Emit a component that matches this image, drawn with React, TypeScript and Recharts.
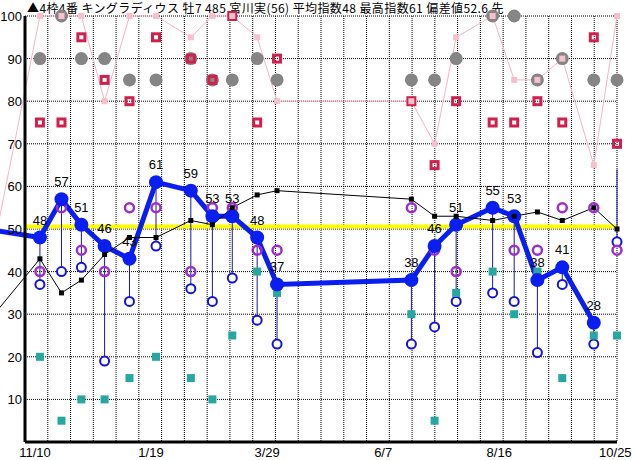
import React from 'react';
import {
  ComposedChart,
  Line,
  Scatter,
  ErrorBar,
  XAxis,
  YAxis,
  CartesianGrid,
  ReferenceLine,
  LabelList,
} from 'recharts';

const title = '▲4枠4番 キングラディウス 牡7 485 宮川実(56) 平均指数48 最高指数61 偏差値52.6 先';

// race days, counted from 11/10
const raceDays = [3, 16, 28, 42, 57, 73, 94, 107, 119, 134, 146, 227, 241, 254, 276, 289, 303, 318, 337, 351];
const indexValues = [48, 57, 51, 46, 43, 61, 59, 53, 53, 48, 37, 38, 46, 51, 55, 53, 38, 41, 28, null];
const stemTops = [48, 57, 51, 46, 43, 61, 59, 53, 53, 48, 37, 38, 46, 51, 55, 53, 38, 41, 28, 64];
const blueRings = [37, 40, 41, 19, 33, 46, 36, 33, 38.5, 28.6, 23, 23, 27, 33, 35, 33, 21, 37, 23, 47];
const purpleRings = [40, 55, 45, 40, 55, 55, 40, 55, 55, 45, 45, 55, 45, 40, 55, 45, 45, 55, 55, 45];
const blackLine = [43, 35, 38, 44, 48, 48, 52, 51, 55, 58, 59, 57, 53, 53, 52, 53, 54, 52, 55, 50];
const pinkLine = [100, 100, 100, 80, 100, 100, 95, 100, 100, 95, 80, 80, 70, 95, 100, 85, 85, 90, 65, 100];
const grayDots = [90, 100, 90, 90, 85, 85, 90, 85, 85, 90, 85, 85, 85, 90, 100, 100, 85, 90, 85, 85];
const redSquares = [75, 75, 95, 85, 80, 95, 90, 85, 100, 75, 90, 80, 65, 80, 75, 75, 80, 75, 95, 70];
const tealSquares = [20, 5, 10, 10, 15, 20, 15, 10, 25, 40, 35, 30, 5, 35, 40, 30, 40, 15, 25, 25];
const yellowLevel = 50.6;

// the race before the visible window (only its connecting segments show)
const prevDay = -33;
const prevIndex = 50.2;
const prevBlack = 26;
const prevPink = 30;

const dateTicks = [0, 70, 140, 210, 280, 350];
const dateLabels = ['11/10', '1/19', '3/29', '6/7', '8/16', '10/25'];
const yTicks = [10, 20, 30, 40, 50, 60, 70, 80, 90, 100];

const data = raceDays.map((day, i) => ({
  day,
  index: indexValues[i],
  stemTop: stemTops[i],
  ring: blueRings[i],
  purple: purpleRings[i],
  black: blackLine[i],
  pink: pinkLine[i],
  gray: grayDots[i],
  red: redSquares[i],
  teal: tealSquares[i],
}));

const FONT = '"Noto Sans CJK JP", "Noto Sans", sans-serif';
const NUM_FONT = '"Liberation Sans", Arial, sans-serif';

const ok = (p: any) => Number.isFinite(p.cx) && Number.isFinite(p.cy);

const GrayDot = (p: any) => (ok(p) ? <circle cx={p.cx} cy={p.cy} r={6.5} fill="#858585" /> : <g />);
const RedSquare = (p: any) =>
  ok(p) ? <rect x={p.cx - 3.5} y={p.cy - 3.5} width={7} height={7} fill="none" stroke="#d0204c" strokeWidth={3} /> : <g />;
const TealSquare = (p: any) =>
  ok(p) ? <rect x={p.cx - 4} y={p.cy - 4} width={8} height={8} fill="#27a79f" /> : <g />;
const PurpleRing = (p: any) =>
  ok(p) ? <circle cx={p.cx} cy={p.cy} r={4.5} fill="none" stroke="#9a2fcc" strokeWidth={2.5} /> : <g />;
const BlueRing = (p: any) =>
  ok(p) ? <circle cx={p.cx} cy={p.cy} r={4.5} fill="#fff" stroke="#1414d8" strokeWidth={2} /> : <g />;

const PinkDot = (p: any) =>
  ok(p) ? <rect key={p.index} x={p.cx - 3} y={p.cy - 3} width={6} height={6} fill="#f8c0cc" /> : <g key={p.index} />;
const BlackDot = (p: any) =>
  ok(p) ? <rect key={p.index} x={p.cx - 2.5} y={p.cy - 2.5} width={5} height={5} fill="#000" /> : <g key={p.index} />;

const XTick = (p: any) => {
  const i = dateTicks.indexOf(p.payload.value);
  return (
    <text x={p.x} y={p.y + 13} textAnchor="middle" fontSize={13} fontFamily={NUM_FONT} fill="#000">
      {dateLabels[i]}
    </text>
  );
};

const YTick = (p: any) => (
  <text x={p.x} y={p.y + 5} textAnchor="end" fontSize={13} fontFamily={NUM_FONT} fill="#000">
    {p.payload.value}
  </text>
);

const IndexLabel = (p: any) =>
  p.value == null ? null : (
    <text x={p.x} y={p.y - 13} textAnchor="middle" fontSize={13} fontFamily={NUM_FONT} fill="#000">
      {p.value}
    </text>
  );

export default function App() {
  const first = data[0];
  return (
    <div style={{ position: 'absolute', left: 0, top: 0, width: 632, height: 460, background: '#fff' }}>
      <div
        style={{
          position: 'absolute',
          left: 27,
          top: 0,
          fontFamily: FONT,
          fontSize: 12,
          lineHeight: '15px',
          letterSpacing: '0.4px',
          whiteSpace: 'nowrap',
          color: '#000',
        }}
      >
        {title}
      </div>
      <ComposedChart width={632} height={460} data={data} margin={{ top: 16, right: 15, bottom: 0, left: 0 }}>
        <CartesianGrid
          stroke="#000"
          strokeDasharray="1 1"
          verticalCoordinatesGenerator={({ offset }: any) =>
            Array.from({ length: 27 }, (_, i) => offset.left + (i * offset.width) / 26)
          }
        />
        <XAxis
          dataKey="day"
          type="number"
          domain={[-6, 351]}
          ticks={dateTicks}
          tick={<XTick />}
          tickLine={false}
          tickSize={0}
          height={18}
          axisLine={{ stroke: '#000', strokeWidth: 3 }}
        />
        <XAxis
          xAxisId="top"
          dataKey="day"
          type="number"
          orientation="top"
          domain={[-6, 351]}
          height={0}
          tick={false}
          tickLine={false}
          axisLine={{ stroke: '#000', strokeWidth: 2 }}
        />
        <YAxis
          type="number"
          domain={[0, 100]}
          ticks={yTicks}
          tick={<YTick />}
          tickLine={false}
          tickSize={0}
          tickMargin={3}
          width={25}
          axisLine={{ stroke: '#000', strokeWidth: 3 }}
        />
        <YAxis
          yAxisId="right"
          orientation="right"
          type="number"
          domain={[0, 100]}
          width={0}
          tick={false}
          tickLine={false}
          axisLine={{ stroke: '#000', strokeWidth: 3 }}
        />
        <ReferenceLine y={yellowLevel} stroke="#ffff00" strokeWidth={4} />
        <ReferenceLine
          segment={[{ x: prevDay, y: prevPink }, { x: first.day, y: first.pink }]}
          ifOverflow="visible"
          stroke="#f6b4c4"
          strokeWidth={1}
        />
        <ReferenceLine
          segment={[{ x: prevDay, y: prevIndex }, { x: first.day, y: first.index as number }]}
          ifOverflow="visible"
          stroke="#0a1ef0"
          strokeWidth={5}
        />
        <ReferenceLine
          segment={[{ x: prevDay, y: prevBlack }, { x: first.day, y: first.black }]}
          ifOverflow="visible"
          stroke="#000"
          strokeWidth={1}
        />
        <Line
          dataKey="pink"
          stroke="#f6b4c4"
          strokeWidth={1}
          dot={<PinkDot />}
          activeDot={false}
          isAnimationActive={false}
        />
        <Scatter dataKey="gray" shape={GrayDot} isAnimationActive={false} />
        <Scatter dataKey="red" shape={RedSquare} isAnimationActive={false} />
        <Line
          dataKey="index"
          stroke="#0a1ef0"
          strokeWidth={5}
          dot={{ r: 7, fill: '#0a1ef0', stroke: 'none' }}
          activeDot={false}
          isAnimationActive={false}
        >
          <LabelList dataKey="index" content={IndexLabel} />
        </Line>
        <Scatter dataKey="ring" shape={BlueRing} isAnimationActive={false}>
          <ErrorBar
            dataKey={(d: any) => [0, d.stemTop - d.ring]}
            direction="y"
            width={0}
            stroke="#1818a0"
            strokeWidth={1}
            isAnimationActive={false}
          />
        </Scatter>
        <Scatter dataKey="teal" shape={TealSquare} isAnimationActive={false} />
        <Line
          dataKey="black"
          stroke="#000"
          strokeWidth={1}
          dot={<BlackDot />}
          activeDot={false}
          isAnimationActive={false}
        />
        <Scatter dataKey="purple" shape={PurpleRing} isAnimationActive={false} />
      </ComposedChart>
    </div>
  );
}
